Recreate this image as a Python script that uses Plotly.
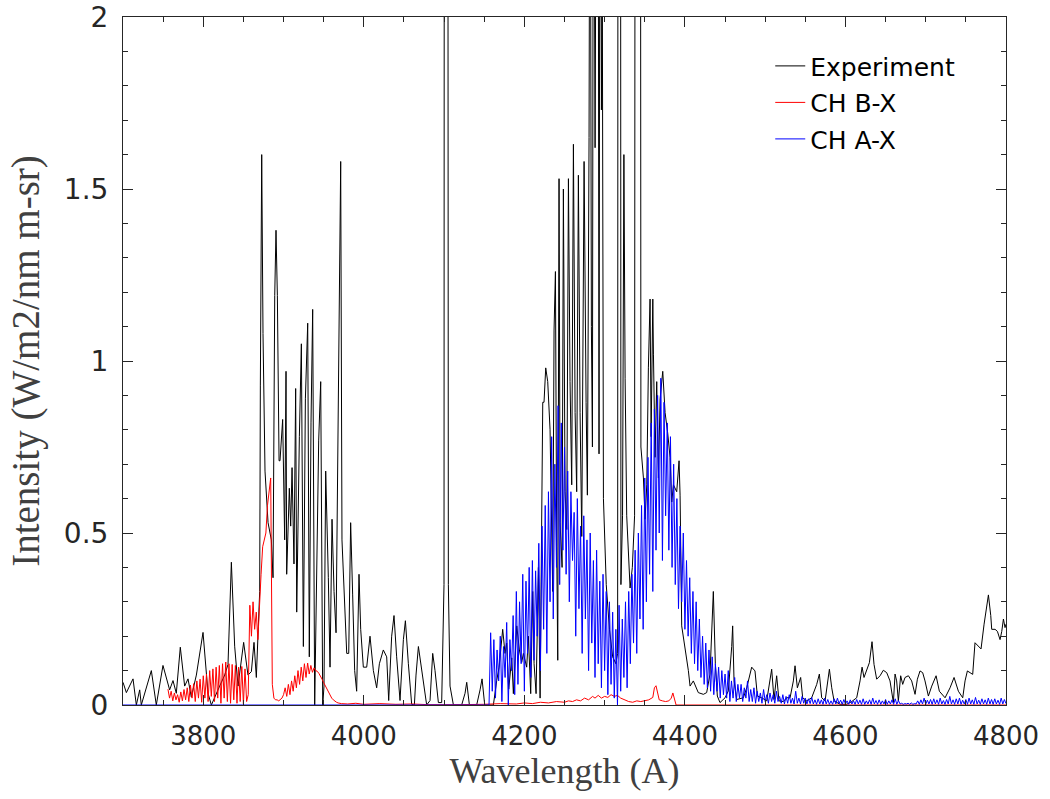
import plotly.graph_objects as go

# ---------------- Experiment (vertices) ----------------
exp_wl = [
    3700.0, 3704.2, 3712.5, 3716.6, 3720.8, 3722.8, 3735.3, 3741.5, 3749.8, 3758.1,
    3762.3, 3766.4, 3771.4, 3776.8, 3781.0, 3785.1, 3791.4, 3799.7, 3805.9, 3810.1,
    3820.4, 3826.7, 3830.8, 3835.0, 3839.1, 3843.3, 3850.3, 3855.7, 3859.9, 3863.2,
    3866.1, 3870.3, 3871.1, 3872.8, 3874.4, 3876.9, 3880.7, 3884.8, 3886.9, 3889.0,
    3890.6, 3892.3, 3894.4,
    3895.6, 3898.9, 3901.4, 3903.1, 3903.9, 3907.2, 3908.9, 3910.6, 3913.0, 3915.1,
    3916.4, 3919.7, 3922.2, 3924.7, 3927.2, 3930.1, 3932.1, 3934.2, 3936.3, 3938.8,
    3940.5, 3943.8, 3946.3, 3948.8, 3950.4, 3952.5, 3955.8, 3957.9, 3960.4, 3962.9,
    3965.4, 3967.4, 3969.5, 3971.2, 3972.8, 3975.3, 3978.7, 3981.2, 3983.6, 3986.1,
    3988.6, 3991.1, 3994.0, 3996.1, 3999.4, 4003.6, 4007.7, 4011.9, 4016.0, 4019.4,
    4024.3, 4028.5, 4031.0, 4034.7, 4037.6, 4040.9, 4045.1, 4049.3, 4051.8, 4055.5,
    4059.6, 4063.0, 4065.0, 4068.0, 4072.1, 4078.3, 4082.5, 4085.8, 4088.7, 4092.9,
    4097.0, 4099.9, 4100.4, 4104.4, 4105.3, 4107.4, 4111.6, 4121.9, 4126.1, 4128.2,
    4131.5, 4140.6, 4144.8, 4147.3, 4150.6, 4161.4, 4165.6, 4168.5, 4173.0, 4175.9,
    4178.0, 4180.5, 4184.3, 4186.3, 4190.5, 4193.8, 4196.7, 4198.8, 4202.9, 4205.0,
    4207.9, 4210.4, 4212.1, 4214.6, 4217.5, 4219.6, 4222.9, 4224.5, 4226.6, 4229.1,
    4232.0, 4233.7, 4235.3, 4237.0, 4238.7, 4240.3, 4241.6, 4243.2, 4244.5, 4247.0,
    4248.6, 4250.7, 4252.8, 4254.9, 4256.9, 4259.0, 4261.1, 4263.2, 4265.2, 4267.3,
    4269.4, 4271.5, 4274.4, 4276.9, 4278.5, 4280.6, 4281.8, 4283.5, 4284.8, 4286.0,
    4288.1, 4290.2, 4292.0, 4293.0, 4294.3, 4296.0, 4297.0, 4298.5, 4302.0, 4306.0,
    4310.0, 4314.0, 4316.2, 4316.8, 4319.6, 4320.3, 4322.3, 4324.0, 4325.5, 4327.5,
    4331.7, 4334.5, 4337.3, 4338.3, 4344.3, 4345.2, 4348.3, 4350.4, 4352.5, 4354.5,
    4356.6, 4357.9, 4360.0, 4360.8, 4362.8, 4364.9, 4367.0, 4369.1, 4372.4, 4375.3,
    4378.6, 4381.5, 4383.6, 4385.7, 4389.8, 4392.7, 4394.0, 4396.0, 4400.1, 4404.3,
    4406.4, 4410.5, 4416.7, 4423.0, 4427.1, 4431.3, 4435.4, 4437.9, 4440.4, 4443.7,
    4450.0, 4454.1, 4458.3, 4459.5, 4461.2, 4464.5, 4472.8, 4477.0, 4483.2, 4487.3,
    4490.3, 4495.6, 4501.9, 4506.0, 4508.1, 4511.0, 4514.3, 4517.2, 4522.6, 4526.8,
    4531.0, 4535.1, 4537.2, 4540.1, 4544.2, 4546.7, 4551.7, 4557.9, 4564.2, 4567.5,
    4570.4, 4574.6, 4576.6, 4580.0, 4582.9, 4585.8, 4593.2, 4601.6, 4607.8, 4614.0,
    4618.2, 4620.7, 4623.1, 4626.5, 4629.8, 4633.1, 4635.6, 4638.9, 4643.1, 4647.2,
    4651.4, 4655.5, 4659.7, 4661.8, 4663.8, 4665.9, 4668.8, 4671.3, 4674.2, 4678.4,
    4682.5, 4686.7, 4689.6, 4692.9, 4696.2, 4699.1, 4703.3, 4707.5, 4712.9, 4717.0,
    4724.1, 4730.3, 4735.3, 4740.7, 4746.1, 4749.0, 4751.9, 4755.2, 4758.5, 4761.4,
    4765.6, 4768.9, 4772.7, 4776.0, 4778.1, 4781.0, 4782.2, 4786.4, 4789.3, 4792.6,
    4794.7, 4796.8, 4798.8, 4800.0,
]
exp_int = [
    0.066, 0.036, 0.076, 0.0, 0.044, 0.0, 0.100, 0.0, 0.115, 0.044,
    0.071, 0.034, 0.168, 0.055, 0.076, 0.023, 0.087, 0.211, 0.034, 0.0,
    0.055, 0.087, 0.118, 0.415, 0.171, 0.055, 0.182, 0.087, 0.097, 0.182,
    0.08, 0.33, 0.93, 1.6, 1.08, 0.68, 0.53, 0.48, 0.37, 1.19,
    1.38, 1.19, 0.71,
    0.71, 0.83, 0.48, 0.97, 0.38, 0.63, 0.52, 0.69, 0.41, 0.92,
    0.27, 0.78, 1.05, 0.17, 0.89, 1.11, 0.14, 0.82, 1.15, 0.0,
    0.27, 0.77, 0.94, 0.0, 0.055, 0.68, 0.37, 0.11, 0.54, 0.33,
    0.21, 0.72, 1.15, 1.58, 0.48, 0.32, 0.15, 0.15, 0.53, 0.32,
    0.1, 0.04, 0.38, 0.22, 0.11, 0.11, 0.2, 0.1, 0.05, 0.12,
    0.16, 0.14, 0.013, 0.2, 0.26, 0.14, 0.013, 0.19, 0.245, 0.12,
    0.002, 0.0, 0.087, 0.17, 0.1, 0.0, 0.013, 0.15, 0.1, 0.007,
    0.007, 0.35, 4.0, 4.0, 0.35, 0.055, 0.0, 0.0, 0.034, 0.066,
    0.0, 0.0, 0.044, 0.076, 0.0, 0.0, 0.072, 0.11, 0.22, 0.15,
    0.18, 0.046, 0.137, 0.033, 0.23, 0.16, 0.124, 0.15, 0.11, 0.2,
    0.033, 0.33, 0.12, 0.033, 0.4, 0.02, 0.88, 0.88, 0.98, 0.94,
    0.8, 0.53, 0.33, 1.09, 1.26, 0.46, 0.13, 1.53, 0.53, 0.4,
    1.5, 0.62, 0.51, 1.53, 0.94, 0.64, 1.63, 0.85, 0.62, 1.54,
    0.85, 0.49, 1.58, 0.88, 0.61, 1.65, 3.0, 1.1, 0.75, 3.0,
    1.62, 3.0, 2.6, 0.73, 3.0, 1.73, 2.2, 0.6, 0.35, 0.22,
    0.14, 0.12, 0.15, 4.0, 4.0, 0.35, 0.55, 1.6, 0.95, 0.55,
    0.34, 0.4, 0.55, 4.0, 4.0, 0.75, 0.66, 0.54, 0.64, 0.98,
    1.18, 0.78, 1.18, 1.02, 0.72, 0.94, 0.66, 0.89, 0.97, 0.85,
    0.79, 0.72, 0.59, 0.64, 0.62, 0.71, 0.61, 0.23, 0.17, 0.1,
    0.055, 0.07, 0.036, 0.031, 0.036, 0.09, 0.33, 0.12, 0.026, 0.007,
    0.021, 0.041, 0.17, 0.23, 0.07, 0.016, 0.021, 0.05, 0.11, 0.099,
    0.026, 0.021, 0.012, 0.07, 0.104, 0.016, 0.085, 0.012, 0.01, 0.021,
    0.021, 0.07, 0.114, 0.05, 0.08, 0.021, 0.012, 0.021, 0.06, 0.09,
    0.021, 0.012, 0.05, 0.104, 0.05, 0.012, 0.002, 0.002, 0.01, 0.021,
    0.07, 0.11, 0.08, 0.099, 0.123, 0.184, 0.118, 0.075, 0.085, 0.101,
    0.094, 0.07, 0.007, 0.09, 0.07, 0.012, 0.085, 0.06, 0.08, 0.085,
    0.07, 0.031, 0.075, 0.099, 0.094, 0.07, 0.026, 0.055, 0.085, 0.04,
    0.021, 0.05, 0.08, 0.04, 0.021, 0.07, 0.099, 0.094, 0.089, 0.181,
    0.172, 0.163, 0.235, 0.29, 0.32, 0.26, 0.22, 0.22, 0.214, 0.19,
    0.214, 0.25, 0.225, 0.235,
]

# ---------------- CH B-X (simulated) ----------------
bx_wl = [
    3756, 3758, 3760, 3762, 3764, 3766, 3768, 3770, 3772, 3774,
    3776, 3778, 3780, 3782, 3784, 3786, 3788, 3790, 3792, 3794,
    3796, 3798, 3800, 3802, 3804, 3806, 3808, 3810, 3812, 3814,
    3816, 3818, 3820, 3822, 3824, 3826, 3828, 3830, 3832, 3834,
    3836, 3838, 3840, 3842, 3844, 3846, 3848, 3850, 3852, 3854,
    3856, 3858, 3860, 3862, 3864, 3866, 3868, 3870, 3872, 3874,
    3876, 3878, 3880, 3882, 3884, 3886, 3888, 3890, 3892, 3894,
    3896, 3898, 3900, 3902, 3904, 3906, 3908, 3910, 3912, 3914,
    3916, 3918, 3920, 3922, 3924, 3926, 3928, 3930, 3932, 3934,
    3936, 3938, 3940, 3942, 3944, 3946, 3948, 3950, 3952, 3954,
    3956, 3958, 3960, 3962, 3964, 3966, 3968, 3970, 3972, 3980,
    3990, 4000, 4020, 4040, 4060, 4080, 4100, 4120, 4150, 4170,
    4190, 4200, 4210, 4220, 4230, 4240, 4250, 4255, 4260, 4265,
    4270, 4275, 4280, 4285, 4288, 4292, 4296, 4300, 4304, 4308,
    4312, 4316, 4320, 4325, 4330, 4335, 4340, 4345, 4350, 4355,
    4360, 4362, 4364, 4366, 4368, 4372, 4376, 4380, 4383, 4385,
    4387, 4389, 4800,
]
bx_int = [
    0.046, 0.02, 0.04, 0.012, 0.035, 0.015, 0.03, 0.008, 0.038, 0.012,
    0.045, 0.015, 0.05, 0.01, 0.058, 0.02, 0.062, 0.01, 0.07, 0.02,
    0.075, 0.008, 0.085, 0.02, 0.09, 0.01, 0.1, 0.025, 0.105, 0.01,
    0.11, 0.02, 0.115, 0.005, 0.12, 0.02, 0.125, 0.01, 0.12, 0.005,
    0.118, 0.015, 0.115, 0.005, 0.11, 0.01, 0.112, 0.003, 0.105, 0.01,
    0.03, 0.29, 0.2, 0.3, 0.22, 0.27, 0.19, 0.3, 0.38, 0.46,
    0.48, 0.5, 0.58, 0.62, 0.66, 0.06, 0.02, 0.015, 0.015, 0.012,
    0.015, 0.02, 0.03, 0.05, 0.025, 0.06, 0.03, 0.07, 0.04, 0.085,
    0.05, 0.1, 0.06, 0.11, 0.07, 0.12, 0.08, 0.122, 0.09, 0.115,
    0.095, 0.108, 0.1, 0.098, 0.092, 0.085, 0.075, 0.065, 0.055, 0.045,
    0.036, 0.028, 0.02, 0.015, 0.011, 0.008, 0.006, 0.005, 0.004, 0.003,
    0.005, 0.002, 0.004, 0.002, 0.003, 0.001, 0.002, 0.001, 0.002, 0.004,
    0.003, 0.006, 0.004, 0.008, 0.006, 0.01, 0.008, 0.012, 0.01, 0.015,
    0.012, 0.02, 0.015, 0.025, 0.02, 0.028, 0.02, 0.025, 0.022, 0.03,
    0.025, 0.028, 0.02, 0.015, 0.01, 0.008, 0.012, 0.01, 0.012, 0.015,
    0.022, 0.05, 0.056, 0.03, 0.015, 0.012, 0.01, 0.012, 0.02, 0.035,
    0.02, 0.0, 0.0,
]

# ---------------- CH A-X (simulated), 2 A grid from 4150 A ----------------
ax_start, ax_step = 4150, 2
ax_int = [
    0.0, 0.0, 0.0, 0.0, 0.21, 0.04, 0.19, 0.02, 0.16, 0.07,
    0.2, 0.01, 0.17, 0.08, 0.24, 0.0, 0.19, 0.1, 0.26, 0.03,
    0.33, 0.06, 0.3, 0.12, 0.38, 0.04, 0.36, 0.15, 0.4, 0.08,
    0.42, 0.13, 0.39, 0.2, 0.47, 0.1, 0.52, 0.22, 0.58, 0.15,
    0.62, 0.3, 0.78, 0.25, 0.7, 0.4, 0.87, 0.35, 0.82, 0.45,
    0.75, 0.38, 0.68, 0.3, 0.62, 0.42, 0.56, 0.2, 0.6, 0.28,
    0.52, 0.15, 0.55, 0.25, 0.48, 0.1, 0.5, 0.18, 0.42, 0.08,
    0.45, 0.12, 0.36, 0.05, 0.38, 0.1, 0.33, 0.03, 0.3, 0.06,
    0.27, 0.02, 0.22, 0.0, 0.29, 0.04, 0.25, 0.08, 0.3, 0.05,
    0.33, 0.12, 0.38, 0.18, 0.45, 0.15, 0.5, 0.25, 0.58, 0.22,
    0.66, 0.3, 0.72, 0.38, 0.82, 0.33, 0.86, 0.45, 0.9, 0.5,
    0.95, 0.42, 0.88, 0.55, 0.82, 0.45, 0.78, 0.4, 0.7, 0.35,
    0.6, 0.28, 0.52, 0.3, 0.5, 0.22, 0.42, 0.2, 0.37, 0.15,
    0.33, 0.12, 0.3, 0.1, 0.25, 0.08, 0.2, 0.06, 0.18, 0.05,
    0.16, 0.04, 0.14, 0.03, 0.12, 0.04, 0.11, 0.02, 0.1, 0.03,
    0.09, 0.02, 0.1, 0.01, 0.07, 0.02, 0.08, 0.01, 0.06, 0.02,
    0.06, 0.01, 0.05, 0.02, 0.07, 0.01, 0.045, 0.01, 0.05, 0.005,
    0.04, 0.01, 0.035, 0.005, 0.045, 0.01, 0.03, 0.005, 0.035, 0.01,
    0.03, 0.005, 0.04, 0.01, 0.025, 0.005, 0.03, 0.003, 0.025, 0.005,
    0.03, 0.005, 0.02, 0.003, 0.04, 0.005, 0.02, 0.003, 0.025, 0.005,
    0.02, 0.003, 0.018, 0.004, 0.022, 0.003, 0.015, 0.002, 0.018, 0.003,
    0.015, 0.002, 0.02, 0.003, 0.016, 0.002, 0.012, 0.002, 0.018, 0.003,
    0.02, 0.004, 0.014, 0.002, 0.016, 0.003, 0.012, 0.002, 0.015, 0.003,
    0.012, 0.002, 0.016, 0.003, 0.014, 0.002, 0.018, 0.002, 0.012, 0.003,
    0.015, 0.002, 0.02, 0.003, 0.013, 0.002, 0.015, 0.002, 0.012, 0.003,
    0.016, 0.002, 0.012, 0.003, 0.015, 0.002, 0.018, 0.002, 0.013, 0.003,
    0.005, 0.002, 0.004, 0.003, 0.005, 0.002, 0.006, 0.002, 0.004, 0.003,
    0.012, 0.002, 0.015, 0.003, 0.02, 0.002, 0.014, 0.003, 0.016, 0.002,
    0.018, 0.003, 0.015, 0.002, 0.02, 0.003, 0.013, 0.002, 0.016, 0.003,
    0.025, 0.003, 0.015, 0.002, 0.018, 0.003, 0.02, 0.002, 0.014, 0.003,
    0.016, 0.002, 0.02, 0.003, 0.015, 0.002, 0.022, 0.003, 0.014, 0.002,
    0.018, 0.003, 0.015, 0.002, 0.02, 0.003, 0.016, 0.002, 0.018, 0.003,
    0.014, 0.002, 0.02, 0.003, 0.016, 0.004,
]
ax_wl = [3700] + [ax_start + ax_step * i for i in range(len(ax_int))]
ax_int = [0.0] + ax_int

x_ticks = [3800, 4000, 4200, 4400, 4600, 4800]
y_ticks = [0, 0.5, 1, 1.5, 2]
y_ticklabels = ["0", "0.5", "1", "1.5", "2"]

fig = go.Figure()
fig.add_trace(go.Scatter(x=exp_wl, y=exp_int, mode="lines", name="Experiment",
                         legendgroup="a", line=dict(color="black", width=1)))
fig.add_trace(go.Scatter(x=bx_wl, y=bx_int, mode="lines", name="CH B-X",
                         legendgroup="b", line=dict(color="#ff0000", width=1)))
fig.add_trace(go.Scatter(x=ax_wl, y=ax_int, mode="lines", name="CH A-X",
                         legendgroup="c", line=dict(color="#0000ff", width=1)))

axis_common = dict(showline=True, linecolor="#262626", linewidth=1, mirror="allticks",
                   ticks="inside", tickcolor="#262626", showgrid=False, zeroline=False,
                   automargin=False)

fig.update_layout(
    width=1050, height=799,
    margin=dict(l=123, r=44, t=17, b=94),
    paper_bgcolor="white", plot_bgcolor="white",
    showlegend=True,
    legend=dict(x=0.733, y=0.962, xanchor="left", yanchor="top",
                bgcolor="rgba(0,0,0,0)", borderwidth=0,
                font=dict(family="DejaVu Sans", size=25, color="#000000"),
                tracegroupgap=1),
    xaxis=dict(range=[3700, 4800], tickvals=x_ticks, ticklen=10,
               tickfont=dict(family="DejaVu Sans", size=26, color="#262626"),
               ticklabelstandoff=8,
               minor=dict(dtick=50, ticklen=5, ticks="inside", tickcolor="#262626"),
               title=dict(text="Wavelength (A)",
                          font=dict(family="Liberation Serif", size=36, color="#404040"),
                          standoff=4),
               **axis_common),
    yaxis=dict(range=[0, 2], tickvals=y_ticks, ticktext=y_ticklabels, ticklen=10,
               tickfont=dict(family="DejaVu Sans", size=28, color="#262626"),
               ticklabelstandoff=8,
               minor=dict(dtick=0.1, ticklen=5, ticks="inside", tickcolor="#262626"),
               title=dict(text="Intensity (W/m2/nm m-sr)",
                          font=dict(family="Liberation Serif", size=39, color="#404040"),
                          standoff=12),
               **axis_common),
)

fig.write_html("out.html")
